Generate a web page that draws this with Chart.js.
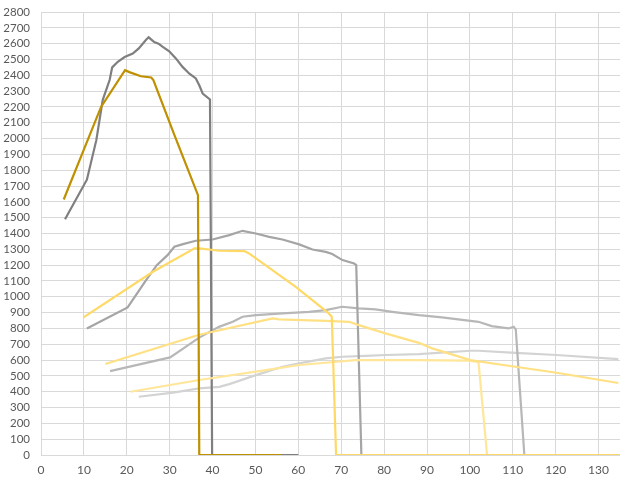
<!DOCTYPE html>
<html>
<head>
<meta charset="utf-8">
<script src="https://cdn.jsdelivr.net/npm/chart.js@4"></script>
<style>
  body { margin: 0; background: #fff; }
  canvas { display: block; }
</style>
</head>
<body>
<canvas id="myChart" width="620" height="484"></canvas>
<script>
// series values (x, y pairs)
const darkGrayX = [5.6, 10.7, 12.9, 14.4, 16.0, 16.6, 17.9, 19.5, 21.4, 22.8, 24.5, 25.1, 26.4, 27.4, 28.4, 29.9, 31.5, 33.0, 34.6, 36.1, 36.9, 37.7, 39.4, 39.9, 60];
const darkGrayY = [1490, 1740, 1990, 2245, 2370, 2450, 2485, 2515, 2537, 2570, 2625, 2640, 2610, 2600, 2580, 2552, 2505, 2453, 2410, 2380, 2337, 2285, 2247, 0, 0];

const darkGoldX = [5.3, 14.0, 19.6, 20.6, 23.3, 25.7, 26.2, 31.0, 36.6, 36.9, 56];
const darkGoldY = [1615, 2200, 2432, 2420, 2394, 2386, 2370, 2030, 1642, 0, 0];

const midGrayX = [10.7, 20.2, 24.5, 27.0, 29.5, 31.1, 33.1, 36.1, 40.0, 43.9, 47.0, 50.1, 53.2, 56.3, 60.2, 63.3, 66.4, 67.9, 70.3, 73.0, 73.5, 74.7, 106];
const midGrayY = [800, 933, 1105, 1200, 1263, 1316, 1333, 1354, 1362, 1390, 1417, 1400, 1379, 1362, 1331, 1299, 1284, 1270, 1232, 1211, 1200, 0, 0];

const lightGoldX = [9.9, 26.1, 35.8, 36.9, 41.6, 47.4, 48.5, 59.4, 67.1, 67.8, 68.8, 135];
const lightGoldY = [870, 1158, 1306, 1306, 1291, 1289, 1274, 1063, 895, 874, 0, 0];

const grayX = [16.1, 30.1, 36.9, 41.5, 44.7, 47.0, 50.1, 56.3, 62.5, 66.4, 70.2, 74.1, 78.0, 81.9, 88.1, 93.5, 100.1, 102.0, 105.1, 109.0, 110.2, 110.7, 112.7, 135];
const grayY = [530, 617, 742, 810, 842, 874, 884, 895, 905, 916, 937, 927, 920, 905, 884, 870, 848, 842, 815, 800, 811, 794, 0, 0];

const goldX = [15.0, 36.9, 54.0, 55.5, 66.4, 71.8, 74.1, 80.3, 88.1, 91.2, 100.1, 110.6, 120.2, 134.6];
const goldY = [575, 760, 863, 857, 848, 842, 821, 769, 709, 674, 600, 558, 520, 455];

const paleGrayX = [22.8, 30.8, 36.9, 41.6, 43.9, 50.1, 56.3, 60.2, 66.4, 70.2, 75.7, 80.3, 88.1, 100.1, 102.0, 110.6, 120.2, 134.6];
const paleGrayY = [368, 394, 421, 431, 448, 505, 558, 579, 611, 621, 627, 632, 638, 659, 659, 646, 632, 606];

const paleGoldX = [20.9, 36.9, 52.4, 60.2, 66.4, 73.3, 88.1, 99.7, 102.0, 104.0, 135];
const paleGoldY = [400, 474, 537, 569, 583, 600, 600, 596, 589, 0, 0];

const xTicks = [0, 10, 20, 30, 40, 50, 60, 70, 80, 90, 100, 110, 120, 130];

function pts(xs, ys) {
    return xs.map((x, i) => ({ x: x, y: ys[i] }));
}

function line(xs, ys, color) {
    return {
        data: pts(xs, ys),
        borderColor: color,
        borderWidth: 2.2,
        pointRadius: 0,
        tension: 0,
        fill: false
    };
}

// golds listed first so they sit on top of the greys along the zero line
const datasets = [
    line(darkGoldX, darkGoldY, '#BF9000'),
    line(lightGoldX, lightGoldY, '#FFD966'),
    line(goldX, goldY, '#FFE083'),
    line(paleGoldX, paleGoldY, '#FFE699'),
    line(darkGrayX, darkGrayY, '#7F7F7F'),
    line(midGrayX, midGrayY, '#A5A5A5'),
    line(grayX, grayY, '#B7B7B7'),
    line(paleGrayX, paleGrayY, '#D3D3D3')
];

const ctx = document.getElementById('myChart').getContext('2d');

const myChart = new Chart(ctx, {
    type: 'scatter',
    data: { datasets: datasets },
    options: {
        responsive: false,
        animation: false,
        showLine: true,
        layout: { padding: 0 },
        plugins: {
            legend: { display: false },
            tooltip: { enabled: false }
        },
        scales: {
            x: {
                type: 'linear',
                min: 0,
                max: 135,
                afterFit: s => { s.height = 29; },
                afterBuildTicks: s => { s.ticks = xTicks.map(v => ({ value: v })); },
                ticks: {
                    color: '#595959',
                    font: { family: 'Lato', size: 12 },
                    padding: 8,
                    maxRotation: 0,
                    autoSkip: false,
                    callback: v => String(v)
                },
                grid: { color: '#D9D9D9', drawTicks: false },
                border: { display: false }
            },
            y: {
                min: 0,
                max: 2800,
                afterFit: s => {
                    s.width = 41;
                    s.paddingTop = 12;
                    s.paddingBottom = 0;
                },
                ticks: {
                    stepSize: 100,
                    autoSkip: false,
                    color: '#595959',
                    font: { family: 'Lato', size: 11.5 },
                    padding: 11,
                    callback: v => String(v)
                },
                grid: { color: '#D9D9D9', drawTicks: false },
                border: { display: false }
            }
        }
    }
});
</script>
</body>
</html>
